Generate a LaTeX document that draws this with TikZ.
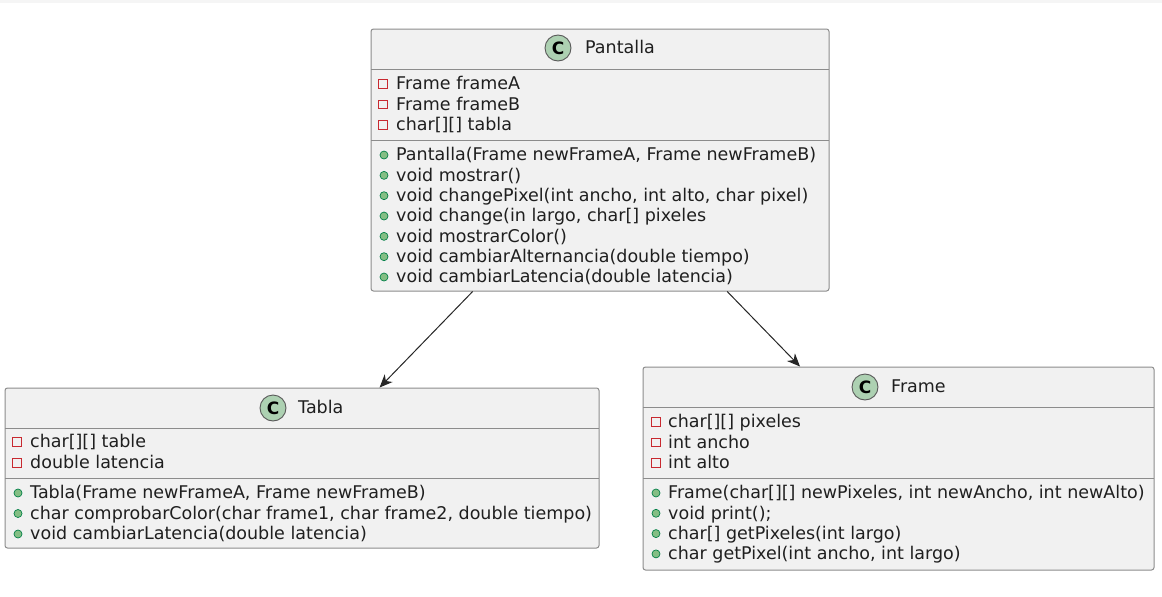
\documentclass[tikz,border=0pt]{standalone}
\usepackage{fontspec}
\setmainfont{DejaVu Sans}
\usetikzlibrary{arrows.meta}
\definecolor{boxfill}{HTML}{F1F1F1}
\definecolor{boxline}{HTML}{8C8C8C}
\definecolor{cfill}{HTML}{ADD1B2}
\definecolor{privred}{HTML}{C82930}
\definecolor{pubgreen}{HTML}{84BE84}
\definecolor{pubdark}{HTML}{038048}
\tikzset{
  classbox/.style={draw=boxline, fill=boxfill, rounded corners=2.5pt, line width=1pt, inner sep=0pt},
  sep/.style={boxline, line width=1pt},
  cicon/.style={circle, draw=black!65, fill=cfill, line width=0.9pt, minimum size=26pt, inner sep=0pt,
    font=\fontsize{17}{17}\selectfont\bfseries},
  title/.style={anchor=mid west, inner sep=0pt, yshift=-3pt, text=black!88, font=\fontsize{17.5}{20}\selectfont},
  member/.style={anchor=mid west, inner sep=0pt, yshift=-3pt, text=black!88, font=\fontsize{17.5}{20}\selectfont},
  priv/.style={draw=privred, line width=0.9pt, minimum size=8.5pt, inner sep=0pt},
  pub/.style={circle, draw=pubdark, fill=pubgreen, line width=0.7pt, minimum size=8pt, inner sep=0pt},
  assoc/.style={draw=black!85, line width=1pt, -{Stealth[length=13pt, width=11pt, inset=4pt]}}
}
\begin{document}
\begin{tikzpicture}[x=1pt, y=-1pt]
  \useasboundingbox (0,0) rectangle (1162,597);
  \fill[black!4] (0,0) rectangle (1162,3);

  % Pantalla
  \node[classbox, minimum width=458pt, minimum height=262pt] (pantalla) at (600,160) {};
  \draw[sep] (371,69) -- (829,69);
  \draw[sep] (371,140) -- (829,140);
  \node[cicon] (pantallaC) at (558,48) {C};
  \node[title] (pantallaT) at (585,48) {Pantalla};
  \foreach \t [count=\i] in {Frame frameA, Frame frameB, {char[][] tabla}}
  {
    \node[priv] (pantallaP\i) at (383,63.5+20.4*\i) {};
    \node[member] (pantallaA\i) at (396,63.5+20.4*\i) {\t};
  }
  \foreach \t [count=\i] in {{Pantalla(Frame newFrameA, Frame newFrameB)}, void mostrar(),
    {void changePixel(int ancho, int alto, char pixel)}, {void change(in largo, char[] pixeles},
    void mostrarColor(), void cambiarAlternancia(double tiempo), void cambiarLatencia(double latencia)}
  {
    \node[pub] (pantallaQ\i) at (384,134.7+20.33*\i) {};
    \node[member] (pantallaM\i) at (396,134.7+20.33*\i) {\t};
  }

  % Tabla
  \node[classbox, minimum width=594pt, minimum height=160pt] (tabla) at (302,468) {};
  \draw[sep] (5,428) -- (599,428);
  \draw[sep] (5,478) -- (599,478);
  \node[cicon] (tablaC) at (273,408) {C};
  \node[title] (tablaT) at (298,408) {Tabla};
  \foreach \t [count=\i] in {{char[][] table}, double latencia}
  {
    \node[priv] (tablaP\i) at (17,421+21*\i) {};
    \node[member] (tablaA\i) at (30,421+21*\i) {\t};
  }
  \foreach \t [count=\i] in {{Tabla(Frame newFrameA, Frame newFrameB)},
    {char comprobarColor(char frame1, char frame2, double tiempo)}, void cambiarLatencia(double latencia)}
  {
    \node[pub] (tablaQ\i) at (18,472.5+20.5*\i) {};
    \node[member] (tablaM\i) at (30,472.5+20.5*\i) {\t};
  }

  % Frame
  \node[classbox, minimum width=511pt, minimum height=203pt] (frame) at (898.5,468.5) {};
  \draw[sep] (643,407) -- (1154,407);
  \draw[sep] (643,478) -- (1154,478);
  \node[cicon] (frameC) at (865,387) {C};
  \node[title] (frameT) at (891,387) {Frame};
  \foreach \t [count=\i] in {{char[][] pixeles}, int ancho, int alto}
  {
    \node[priv] (frameP\i) at (656,401.5+20.5*\i) {};
    \node[member] (frameA\i) at (668,401.5+20.5*\i) {\t};
  }
  \foreach \t [count=\i] in {{Frame(char[][] newPixeles, int newAncho, int newAlto)}, void print();,
    {char[] getPixeles(int largo)}, {char getPixel(int ancho, int largo)}}
  {
    \node[pub] (frameQ\i) at (656,472.7+20.3*\i) {};
    \node[member] (frameM\i) at (668,472.7+20.3*\i) {\t};
  }

  \draw[assoc] (pantalla) -- (tabla);
  \draw[assoc] (pantalla) -- (frame);
\end{tikzpicture}
\end{document}
